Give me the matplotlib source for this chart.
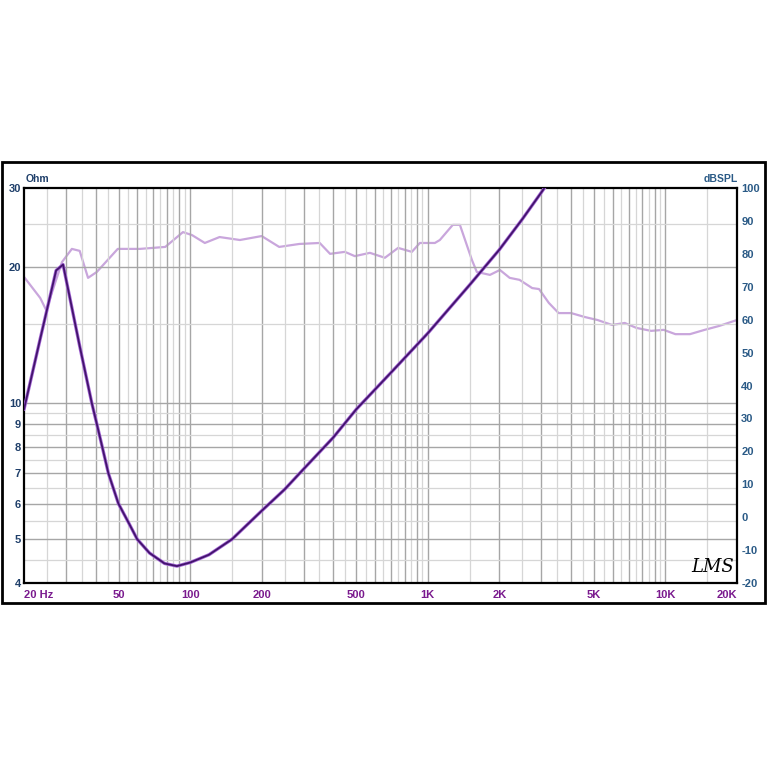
import numpy as np
import matplotlib.pyplot as plt
from matplotlib.patches import Rectangle

# impedance curve (Ohm)
imp_freq = [20, 23.4, 27.3, 29.2, 34.3, 38.6, 40.5, 42.7, 45.3, 49.9, 55, 59.9,
            67.5, 78, 88, 100, 120, 150, 200, 250, 300, 400, 500, 700, 1000,
            1500, 2000, 2500, 3000, 3300]
imp_ohm = [9.7, 13.9, 19.7, 20.3, 13.4, 10.0, 9.0, 8.0, 7.0, 6.0, 5.45, 5.0,
           4.66, 4.42, 4.36, 4.44, 4.62, 5.0, 5.78, 6.45, 7.15, 8.4, 9.7, 11.7, 14.3,
           18.3, 21.9, 25.6, 29.3, 31.5]

# SPL curve (dB)
spl_freq = [20, 23.4, 24.8, 28.9, 31.8, 34.3, 37.2, 40.5, 49.6, 61.5, 78.6, 93.3,
            101.8, 115.3, 133, 162, 200, 237, 288, 351, 388, 448, 493, 571, 660,
            750, 857, 926, 1071, 1124, 1274, 1365, 1534, 1608, 1826, 2011, 2211,
            2432, 2749, 2938, 3230, 3552, 4011, 4580, 5175, 5960, 6741, 7548,
            8699, 9834, 11010, 12680, 14610, 16840, 20000]
spl_db = [73, 66.6, 62.9, 77.5, 81.5, 80.9, 72.7, 74.5, 81.5, 81.5, 82.1, 86.6,
          85.7, 83.3, 85.1, 84.2, 85.4, 82.1, 83.0, 83.3, 80.0, 80.6, 79.3, 80.3, 78.8,
          81.8, 80.6, 83.3, 83.3, 84.2, 88.8, 88.8, 78.1, 74.5, 73.6, 75.1, 72.7,
          72.1, 69.6, 69.3, 65.1, 62.0, 62.0, 60.8, 59.9, 58.4, 59.0, 57.5,
          56.6, 56.9, 55.6, 55.6, 56.9, 58.1, 59.9]

x_ticks = [20, 50, 100, 200, 500, 1000, 2000, 5000, 10000, 20000]
x_labels = ["20 Hz", "50", "100", "200", "500", "1K", "2K", "5K", "10K", "20K"]
ohm_ticks = [4, 5, 6, 7, 8, 9, 10, 20, 30]
db_ticks = list(range(-20, 101, 10))

plt.rcParams["font.family"] = ["Liberation Sans", "DejaVu Sans"]

fig = plt.figure(figsize=(7.68, 7.68), dpi=100)
fig.patches.append(Rectangle((2 / 768, 1 - 603 / 768), 763 / 768, 441 / 768,
                             transform=fig.transFigure, fill=False,
                             edgecolor="black", linewidth=2))

ax = fig.add_axes([24 / 768, 1 - 583 / 768, 713 / 768, 395 / 768])
ax.set_xscale("log")
ax.set_yscale("log")
ax.set_xlim(20, 20000)
ax.set_ylim(4, 30)

# grid: 1..9 per decade darker, halves lighter
major_x, minor_x = [], []
for dec in [10, 100, 1000, 10000]:
    for k in range(1, 10):
        major_x.append(k * dec)
        minor_x.append((k + 0.5) * dec)
for v in minor_x:
    if 20 < v < 20000:
        ax.axvline(v, color="#d6d6d6", lw=0.9, zorder=0)
for v in major_x:
    if 20 < v < 20000:
        ax.axvline(v, color="#a6a6a6", lw=1.0, zorder=0)
for v in [4.5, 5.5, 6.5, 7.5, 8.5, 9.5, 15, 25]:
    ax.axhline(v, color="#d6d6d6", lw=0.9, zorder=0)
for v in [5, 6, 7, 8, 9, 10, 20]:
    ax.axhline(v, color="#a6a6a6", lw=1.0, zorder=0)

ax.plot(imp_freq, imp_ohm, color="#a466d6", lw=2.4, zorder=3,
        solid_joinstyle="round", solid_capstyle="round")
ax.plot(imp_freq, imp_ohm, color="#43146c", lw=1.3, zorder=4,
        solid_joinstyle="round")

ax.set_xticks(x_ticks)
ax.set_xticklabels(x_labels)
ax.xaxis.set_minor_locator(plt.NullLocator())
ax.set_yticks(ohm_ticks)
ax.set_yticklabels([str(v) for v in ohm_ticks])
ax.yaxis.set_minor_locator(plt.NullLocator())
ax.tick_params(axis="x", length=0, pad=5, labelsize=8, labelcolor="#7a1a8e")
ax.tick_params(axis="y", length=0, pad=2, labelsize=8, labelcolor="#1f3f6a")
for lab in ax.get_xticklabels() + ax.get_yticklabels():
    lab.set_fontweight("bold")
ax.get_xticklabels()[0].set_horizontalalignment("left")
ax.get_xticklabels()[-1].set_horizontalalignment("right")
for sp in ax.spines.values():
    sp.set_linewidth(1.6)
    sp.set_color("black")

ax2 = ax.twinx()
ax2.set_ylim(-20, 100)
ax2.plot(spl_freq, spl_db, color="#c9a6dc", lw=1.6, zorder=2)
ax2.set_yticks(db_ticks)
ax2.set_yticklabels([str(v) for v in db_ticks])
ax2.tick_params(axis="y", length=0, pad=3, labelsize=8, labelcolor="#2a5a86")
for lab in ax2.get_yticklabels():
    lab.set_fontweight("bold")
ax.set_zorder(ax2.get_zorder() + 1)
ax.patch.set_visible(False)
ax2.patch.set_visible(True)
ax2.patch.set_facecolor("white")
for sp in ax2.spines.values():
    sp.set_visible(False)

fig.text(26 / 768, 1 - 179 / 768, "Ohm", fontsize=7.5, fontweight="bold",
         color="#1f3f6a", ha="left", va="center")
fig.text(738 / 768, 1 - 179 / 768, "dBSPL", fontsize=7.5, fontweight="bold",
         color="#2a5a86", ha="right", va="center")
fig.text(713 / 768, 1 - 567 / 768, "LMS", fontsize=13, fontstyle="italic",
         color="black", ha="center", va="center", family="DejaVu Serif")

fig.savefig("out.png", dpi=100, facecolor="white")
